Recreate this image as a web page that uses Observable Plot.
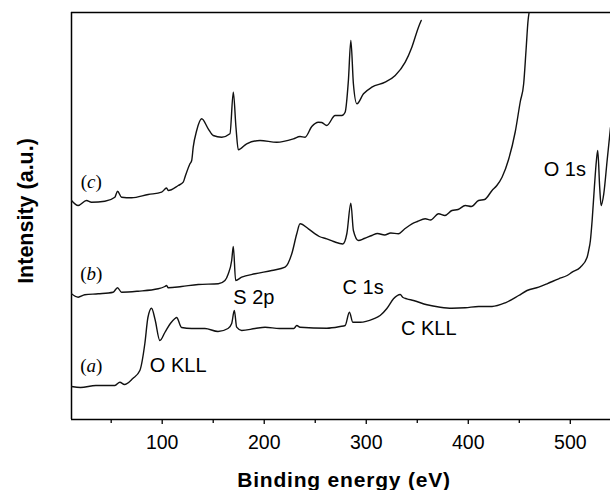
<!DOCTYPE html>
<html>
<head>
<meta charset="utf-8">
<script src="https://cdn.jsdelivr.net/npm/d3@7"></script>
<script src="https://cdn.jsdelivr.net/npm/@observablehq/plot@0.6"></script>
<style>
  html, body { margin: 0; padding: 0; background: #fff; }
  #chart { width: 610px; height: 490px; overflow: hidden; }
</style>
</head>
<body>
<div id="chart"></div>
<script>
// Binding energy (eV) and intensity (a.u., arbitrary offset) for the three spectra
const energyA = [11.1, 20, 35, 53.6, 58.5, 63, 71.2, 78.1, 83.0, 86.0, 89.6, 93, 97.7, 102.6, 108, 112.5, 114.1, 119.0, 128.9, 141.9, 154.7, 164.5, 168.1, 170.7, 173.0, 177.9, 191.0, 200.8, 215, 229, 231.9, 235.1, 261.3, 274.4, 279.3, 283.5, 286.8, 294.0, 307.1, 313.6, 320.2, 326.7, 333.3, 336, 339.8, 346.3, 359.5, 372.5, 384.0, 397.1, 410.1, 423.3, 436.3, 449.4, 457.6, 469.0, 477.2, 488.6, 496.9, 501.8, 509.9, 516.5, 518.0, 519.7, 521.4, 523.6, 525.6, 526.9, 528.8, 530.2, 532.8, 536.1, 539.4];
const intensityA = [33, 32, 34, 34, 37.3, 35, 41, 49, 76, 102, 111.3, 100, 79, 87, 96, 101, 102, 92, 91, 91, 88, 91, 96, 109, 92.3, 89, 91, 92.3, 91, 91, 94, 92.3, 91.3, 93, 94, 107.3, 97.3, 97.3, 100.7, 104, 111, 120.7, 125, 122, 120.7, 119, 114.7, 112.3, 111.3, 111.7, 113, 113, 116.7, 124, 129, 132.3, 135.7, 140.7, 144, 147.3, 152.3, 162.3, 169, 179, 199, 232.3, 259, 269, 232.3, 214, 225.7, 259, 292];

const energyB = [11.1, 17.6, 24.1, 37.2, 51.9, 56.2, 60.2, 76.4, 96.1, 102.6, 104.3, 105.9, 119.0, 135.3, 155.0, 161.5, 164.8, 168.1, 169.7, 172.0, 177.9, 191.0, 207.4, 220.4, 227.0, 231.9, 235.1, 243.3, 249.9, 254, 261.3, 268, 277, 281.0, 284.9, 287.4, 292.3, 298, 305.5, 311, 318, 324, 331.6, 337, 344.8, 350, 357.8, 363, 370.9, 377, 384.0, 390, 397.1, 403, 410.1, 416, 423.3, 428, 433.1, 439.5, 446.1, 451.0, 454.3, 456.6, 458.6, 459.6];
const intensityB = [125.7, 122.3, 124.7, 125.7, 127.3, 131.7, 127.3, 128.3, 130.7, 133, 134, 131.7, 133, 135, 135.7, 139, 145.7, 159, 173, 139, 142.3, 145.7, 149, 152.3, 165.7, 185.7, 195.7, 190.7, 185.7, 183, 180.7, 178, 175.5, 186, 216.3, 189, 179, 181, 184, 186, 184.5, 186.5, 185.7, 190, 195.7, 198, 200.7, 199.5, 205.7, 204, 209, 210, 214, 213, 219, 220, 229, 234, 242.3, 260, 288, 318, 335.7, 369, 399, 407];

const energyC = [11.1, 17.6, 25.8, 30.7, 43.8, 53.6, 56.2, 60.2, 70.0, 86.3, 99.4, 104.3, 105.9, 115.7, 120.6, 122.3, 127.2, 128.9, 130.4, 133.8, 138.7, 145.1, 150.0, 158.3, 166.4, 169.7, 172.3, 174.6, 182.8, 195.9, 212.3, 228.6, 235.1, 240.0, 246.6, 253.1, 256.4, 261.3, 269.5, 276.1, 279.3, 282.5, 284.9, 287.4, 290.8, 297.3, 305.5, 318.5, 328.4, 338.2, 344.7, 351.2, 353.9];
const intensityC = [219, 214, 219, 217.3, 218.3, 222.3, 228.3, 222.3, 221.7, 225, 227.3, 231.5, 229, 234, 237.3, 242.3, 255.7, 259, 272.3, 289, 300.7, 290.7, 284, 282.3, 285.7, 327.3, 292.3, 269.7, 275.7, 279, 277.3, 280.7, 283, 282.3, 293, 297.3, 297, 294, 304, 304, 307.3, 339, 379, 335.7, 315.7, 325.7, 332.3, 337.3, 344, 357.3, 372.3, 392.3, 399];

// Peak annotations
const peakNames = ["O KLL", "S 2p", "C 1s", "C KLL", "O 1s"];
const peakEnergy = [87.9, 169.7, 276.8, 334.0, 473.9];
const peakIntensity = [54.4, 122.1, 132.1, 91.1, 250.4];

// Curve labels
const curveNames = ["(a)", "(b)", "(c)"];
const curveLabelEnergy = [30.5, 30.5, 30.5];
const curveLabelIntensity = [53.6, 145.4, 237.1];

// Axes
const xDomain = [11.1, 539.4];
const yDomain = [0, 407];
const majorTicks = [100, 200, 300, 400, 500];
const minorTicks = [50, 150, 250, 350, 450];
const xLabel = ["Binding energy (eV)"];
const yLabel = ["Intensity (a.u.)"];

const toRows = (xs, ys) => xs.map((x, i) => ({x, y: ys[i]}));
const seriesA = toRows(energyA, intensityA);
const seriesB = toRows(energyB, intensityB);
const seriesC = toRows(energyC, intensityC);
const peaks = peakNames.map((t, i) => ({t, x: peakEnergy[i], y: peakIntensity[i]}));
const curveLabels = curveNames.map((t, i) => ({t, x: curveLabelEnergy[i], y: curveLabelIntensity[i]}));

const sans = "'Liberation Sans', Arial, Helvetica, sans-serif";
const lineStyle = {x: "x", y: "y", stroke: "#111", strokeWidth: 1.4, clip: true, curve: "monotone-x", strokeLinejoin: "round"};

const plot = Plot.plot({
  width: 610,
  height: 490,
  marginLeft: 71,
  marginRight: 0,
  marginTop: 12,
  marginBottom: 71,
  x: {domain: xDomain},
  y: {domain: yDomain, axis: null},
  style: {fontFamily: sans, fontSize: "19.5px", background: "#fff", color: "#000", overflow: "visible"},
  marks: [
    Plot.ruleX([xDomain[0]], {stroke: "#000", strokeWidth: 1.5}),
    Plot.ruleY([yDomain[1]], {stroke: "#000", strokeWidth: 1.4}),
    Plot.ruleY([yDomain[0]], {stroke: "#000", strokeWidth: 1.5}),
    Plot.axisX({ticks: majorTicks, tickSize: 5, tickPadding: 10.7, fontSize: 19.5, label: null, strokeWidth: 1.3, fill: "#000", stroke: "#000"}),
    Plot.axisX({ticks: minorTicks, tickSize: 4, tickFormat: () => "", label: null, strokeWidth: 1.3, stroke: "#000"}),
    Plot.line(seriesA, lineStyle),
    Plot.line(seriesB, lineStyle),
    Plot.line(seriesC, lineStyle),
    Plot.text(peaks, {x: "x", y: "y", text: "t", textAnchor: "start", lineAnchor: "middle", fontSize: 20, fontFamily: sans, fill: "#000"}),
    Plot.text(curveLabels, {x: "x", y: "y", text: "t", textAnchor: "middle", lineAnchor: "middle", fontSize: 19, fontFamily: "'Liberation Serif', 'Times New Roman', serif", fill: "#000"}),
    Plot.text(xLabel, {frameAnchor: "bottom", text: d => d, dx: 3, dy: 60.3, lineAnchor: "middle", fontSize: 21, fontWeight: "bold", fontFamily: sans, fill: "#000", textAnchor: "middle"}),
    Plot.text(yLabel, {frameAnchor: "left", text: d => d, dx: -45, dy: -5, rotate: -90, lineAnchor: "middle", fontSize: 21.5, fontWeight: "bold", fontFamily: sans, fill: "#000", textAnchor: "middle"})
  ]
});

// letter spacing of the x-axis title; italic letter inside curve labels
plot.querySelectorAll("text").forEach(t => {
  if (t.textContent === xLabel[0]) t.setAttribute("letter-spacing", "0.8");
  const m = t.textContent.match(/^\(([abc])\)$/);
  if (m) t.innerHTML = `(<tspan font-style="italic">${m[1]}</tspan>)`;
});

document.getElementById("chart").appendChild(plot);
</script>
</body>
</html>
